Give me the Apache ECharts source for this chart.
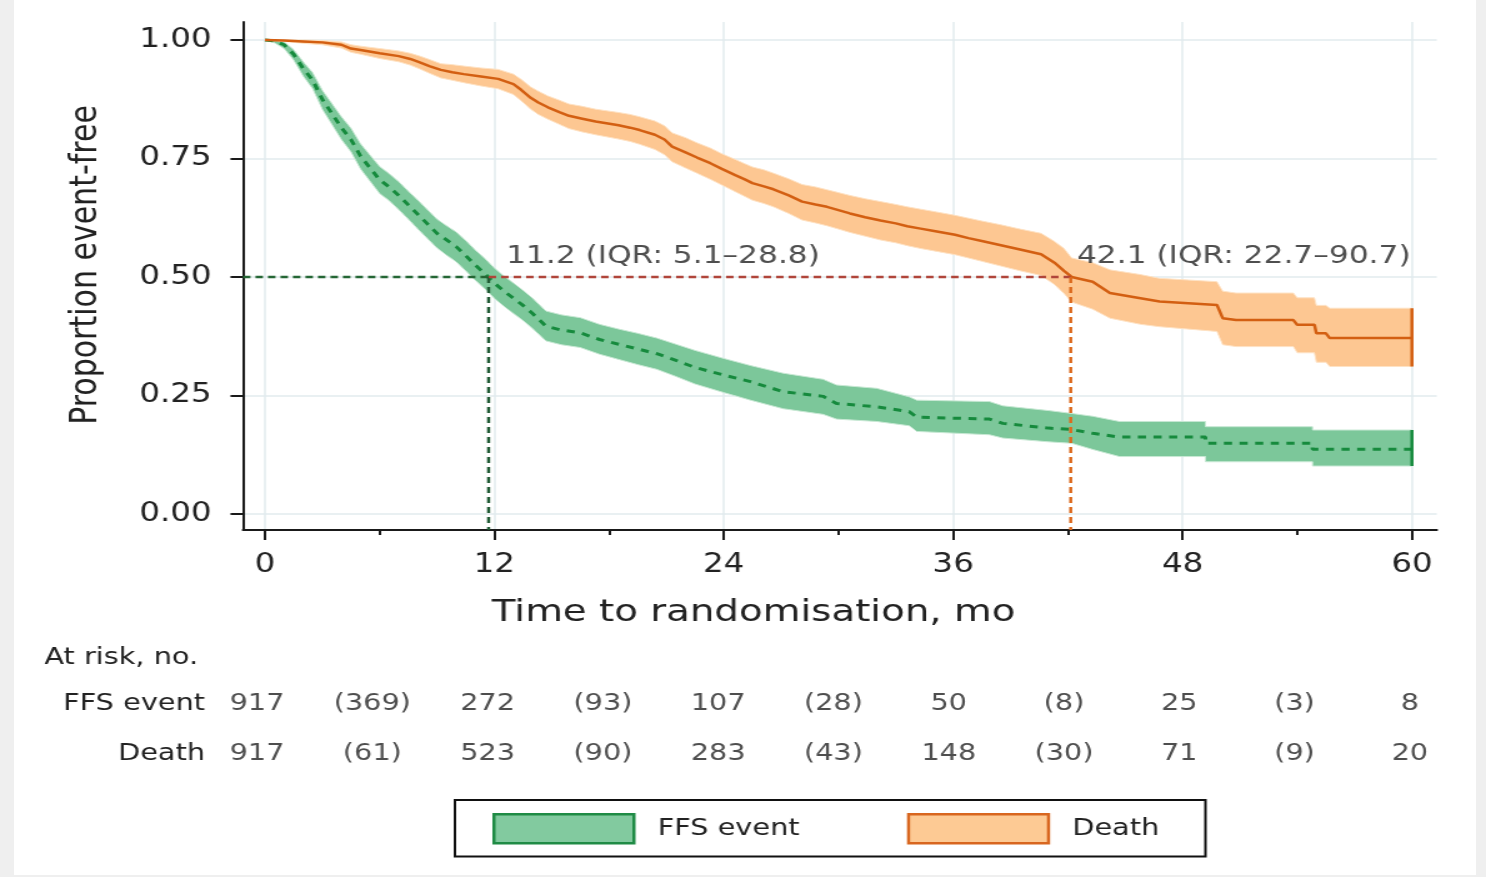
<!DOCTYPE html>
<html>
<head>
<meta charset="utf-8">
<script src="https://cdn.jsdelivr.net/npm/echarts@6/dist/echarts.min.js"></script>
<style>
  html, body { margin: 0; padding: 0; background: #efefef; }
  #panel { position: absolute; left: 14px; top: 0; width: 1462px; height: 875px; background: #fff; }
  /* the original figure is stretched sideways, so the chart is drawn narrow and widened */
  #chart { position: absolute; left: 0; top: 0; width: 1189px; height: 877px;
           transform: scaleX(1.2498); transform-origin: 0 0; }
</style>
</head>
<body>
<div id="panel"></div>
<div id="chart"></div>
<script>
  // curve vertices: months, survival, lower / upper 95% band
  // (a repeated month marks a visible vertical step)
  const ffsTime = [0, 0.5, 1, 1.5, 2, 2.5, 3, 3.5, 4, 4.5, 5, 5.5, 6, 6.5, 7, 7.5, 8, 8.5, 9, 9.5, 10, 10.5, 11, 11.5, 12, 12.5, 13, 13.5, 14, 14.7, 15.5, 16.5, 17.5, 18.5, 19.5, 20.5, 21.5, 22.5, 24, 25.4, 27.1, 29.2, 29.9, 32, 33.7, 34.1, 37.9, 38.6, 41, 42.2, 43.3, 44.7, 49.2, 49.2, 54.8, 54.8, 60]
  const ffsSurv = [1.000, 0.998, 0.990, 0.970, 0.940, 0.915, 0.875, 0.845, 0.815, 0.790, 0.755, 0.730, 0.705, 0.690, 0.672, 0.652, 0.632, 0.612, 0.592, 0.578, 0.564, 0.545, 0.525, 0.507, 0.487, 0.470, 0.455, 0.440, 0.423, 0.396, 0.388, 0.382, 0.368, 0.358, 0.348, 0.338, 0.324, 0.309, 0.293, 0.279, 0.258, 0.248, 0.233, 0.226, 0.216, 0.204, 0.200, 0.191, 0.181, 0.178, 0.170, 0.162, 0.162, 0.149, 0.149, 0.1365, 0.1365]
  const ffsLow = [1.000, 0.994, 0.982, 0.958, 0.924, 0.897, 0.854, 0.822, 0.790, 0.764, 0.728, 0.702, 0.676, 0.661, 0.642, 0.622, 0.601, 0.581, 0.561, 0.546, 0.532, 0.513, 0.493, 0.475, 0.455, 0.438, 0.423, 0.408, 0.391, 0.365, 0.357, 0.351, 0.337, 0.326, 0.315, 0.305, 0.290, 0.274, 0.256, 0.240, 0.222, 0.210, 0.200, 0.195, 0.186, 0.174, 0.167, 0.160, 0.152, 0.149, 0.136, 0.121, 0.121, 0.110, 0.110, 0.101, 0.101]
  const ffsHigh = [1.000, 1.000, 0.996, 0.980, 0.954, 0.931, 0.894, 0.866, 0.838, 0.814, 0.781, 0.757, 0.733, 0.718, 0.701, 0.681, 0.662, 0.642, 0.622, 0.608, 0.595, 0.577, 0.557, 0.539, 0.519, 0.502, 0.487, 0.472, 0.455, 0.428, 0.420, 0.414, 0.400, 0.390, 0.381, 0.371, 0.358, 0.345, 0.328, 0.313, 0.297, 0.284, 0.272, 0.265, 0.247, 0.240, 0.237, 0.228, 0.218, 0.212, 0.206, 0.195, 0.195, 0.184, 0.184, 0.177, 0.177]

  const deathTime = [0, 1, 2, 3, 4, 4.5, 5, 6, 7, 7.6, 8.1, 8.6, 9.2, 9.8, 10.4, 11.3, 12.2, 13, 13.4, 13.9, 14.3, 14.8, 15.4, 15.9, 16.6, 17.3, 18.5, 19.1, 19.6, 20.4, 20.9, 21.3, 22, 22.6, 23.3, 23.9, 24.6, 25.1, 25.5, 26.1, 26.6, 27.4, 28.1, 28.8, 29.4, 30, 30.6, 31.4, 32.2, 33, 33.6, 34.3, 35, 36.1, 36.8, 37.5, 38.5, 39.5, 40.6, 41.3, 41.8, 42.2, 43.3, 44.2, 45.8, 46.8, 49.8, 50.1, 50.8, 53.8, 54, 54.9, 55, 55.5, 55.7, 60]
  const deathSurv = [1.000, 0.999, 0.997, 0.995, 0.990, 0.982, 0.979, 0.972, 0.966, 0.960, 0.953, 0.945, 0.937, 0.932, 0.928, 0.923, 0.918, 0.907, 0.895, 0.878, 0.868, 0.858, 0.848, 0.840, 0.834, 0.828, 0.820, 0.815, 0.810, 0.800, 0.790, 0.775, 0.763, 0.752, 0.740, 0.728, 0.715, 0.706, 0.698, 0.691, 0.685, 0.672, 0.659, 0.653, 0.648, 0.641, 0.634, 0.626, 0.619, 0.613, 0.607, 0.602, 0.597, 0.589, 0.582, 0.576, 0.567, 0.558, 0.548, 0.530, 0.513, 0.500, 0.490, 0.466, 0.455, 0.448, 0.441, 0.413, 0.409, 0.409, 0.399, 0.399, 0.381, 0.381, 0.371, 0.371]
  const deathLow = [1.000, 0.997, 0.993, 0.990, 0.983, 0.974, 0.970, 0.961, 0.954, 0.947, 0.939, 0.930, 0.920, 0.915, 0.910, 0.903, 0.897, 0.885, 0.872, 0.854, 0.843, 0.833, 0.822, 0.813, 0.806, 0.800, 0.791, 0.786, 0.780, 0.769, 0.758, 0.743, 0.730, 0.719, 0.706, 0.694, 0.680, 0.670, 0.662, 0.655, 0.648, 0.634, 0.620, 0.614, 0.608, 0.601, 0.594, 0.586, 0.578, 0.572, 0.566, 0.560, 0.555, 0.547, 0.540, 0.533, 0.523, 0.513, 0.503, 0.484, 0.465, 0.447, 0.432, 0.413, 0.400, 0.395, 0.385, 0.357, 0.353, 0.353, 0.340, 0.340, 0.320, 0.320, 0.311, 0.311]
  const deathHigh = [1.000, 1.000, 1.000, 0.999, 0.996, 0.990, 0.987, 0.982, 0.977, 0.972, 0.966, 0.959, 0.950, 0.948, 0.945, 0.941, 0.938, 0.928, 0.917, 0.901, 0.892, 0.882, 0.873, 0.865, 0.860, 0.854, 0.847, 0.843, 0.838, 0.829, 0.819, 0.804, 0.794, 0.783, 0.772, 0.760, 0.748, 0.739, 0.732, 0.726, 0.719, 0.707, 0.695, 0.690, 0.684, 0.678, 0.672, 0.665, 0.659, 0.653, 0.648, 0.643, 0.638, 0.630, 0.624, 0.618, 0.610, 0.601, 0.592, 0.575, 0.560, 0.540, 0.530, 0.515, 0.505, 0.497, 0.490, 0.470, 0.466, 0.466, 0.456, 0.456, 0.440, 0.440, 0.434, 0.434]

  // medians where the curves cross 0.5, and their notes
  const medianTime = [11.7, 42.15]
  const medianText = ['11.2 (IQR: 5.1\u201328.8)', '42.1 (IQR: 22.7\u201390.7)']

  // axis ticks
  const xTicks = [0, 12, 24, 36, 48, 60]
  const xMinorTicks = [6, 18, 30, 42, 54]
  const yTicks = [0, 0.25, 0.5, 0.75, 1]

  // numbers at risk (and events in brackets) below the plot
  const riskRows = ['FFS event', 'Death']
  const riskTime = [0, 12, 24, 36, 48, 60]
  const eventTime = [6, 18, 30, 42, 54]
  const ffsAtRisk = [917, 272, 107, 50, 25, 8]
  const ffsEvents = [369, 93, 28, 8, 3]
  const deathAtRisk = [917, 523, 283, 148, 71, 20]
  const deathEvents = [61, 90, 43, 30, 9]

  const xMin = -1.15, xMax = 61.3
  const yMin = -0.034, yMax = 1.038
  const font = 'DejaVu Sans'
  const ink = '#222'
  const gridColor = '#e2ebee'

  const chart = echarts.init(document.getElementById('chart'))

  // confidence band drawn as one polygon through the axis scales
  function band(name, times, low, high, fill, edge) {
    return {
      type: 'custom', name: name, z: 1, silent: true,
      data: [[times[0], high[0]]],
      renderItem: (params, api) => {
        const pts = []
        for (let i = 0; i < times.length; i++) pts.push(api.coord([times[i], high[i]]))
        for (let i = times.length - 1; i >= 0; i--) pts.push(api.coord([times[i], low[i]]))
        return { type: 'polygon', shape: { points: pts }, style: { fill: fill, stroke: edge, lineWidth: 1 } }
      },
    }
  }

  function dashed(points, color) {
    return {
      type: 'line', symbol: 'none', z: 4, silent: true, data: points,
      lineStyle: { color: color, width: 2.5, type: [6, 4] },
    }
  }

  const riskData = []
  riskTime.forEach((t, i) => {
    riskData.push({ value: [t, riskRows[0]], name: String(ffsAtRisk[i]) })
    riskData.push({ value: [t, riskRows[1]], name: String(deathAtRisk[i]) })
  })
  eventTime.forEach((t, i) => {
    riskData.push({ value: [t, riskRows[0]], name: '(' + ffsEvents[i] + ')' })
    riskData.push({ value: [t, riskRows[1]], name: '(' + deathEvents[i] + ')' })
  })

  const lastF = ffsTime.length - 1
  const lastD = deathTime.length - 1

  chart.setOption({
    animation: false,
    textStyle: { fontFamily: font },
    title: {
      text: 'At risk, no.', left: 30.5, top: 642,
      textStyle: { fontFamily: font, fontSize: 23, fontWeight: 'normal', color: ink },
    },
    legend: {
      data: [
        { name: 'FFS event', icon: 'rect', itemStyle: { color: '#82ca9f', borderColor: '#1f8b45', borderWidth: 2.5 } },
        { name: 'Death', icon: 'rect', itemStyle: { color: '#fdca94', borderColor: '#d8661f', borderWidth: 2.5 } },
      ],
      left: 364, top: 800,
      itemWidth: 112, itemHeight: 29, itemGap: 86,
      padding: [13, 37, 12, 30],
      borderColor: '#111', borderWidth: 2, backgroundColor: '#fff',
      textStyle: { fontFamily: font, fontSize: 23, color: ink, padding: [0, 0, 0, 14] },
      selectedMode: false,
    },
    grid: [
      { left: 194.4, right: 39.4, top: 22, bottom: 347 },
      { left: 188, right: 41, top: 679, height: 100 },
    ],
    xAxis: [
      {
        type: 'value', gridIndex: 0, min: xMin, max: xMax, position: 'bottom',
        name: 'Time to randomisation, mo', nameLocation: 'middle', nameGap: 67,
        nameTextStyle: { fontFamily: font, fontSize: 31, color: ink, padding: [0, 138, 0, 0] },
        axisLine: { show: true, onZero: false, lineStyle: { color: '#1a1a1a', width: 2 } },
        axisTick: { show: true, customValues: xTicks, length: 10, lineStyle: { color: '#1a1a1a', width: 2 } },
        axisLabel: { customValues: xTicks, margin: 22, fontSize: 26, color: ink, fontFamily: font },
        splitLine: { show: false },
      },
      {
        type: 'value', gridIndex: 0, min: xMin, max: xMax, position: 'bottom',
        axisLine: { show: false, onZero: false },
        axisTick: { show: true, inside: false, customValues: xMinorTicks, length: 5, lineStyle: { color: '#1a1a1a', width: 2 } },
        axisLabel: { show: false },
        splitLine: { show: false },
      },
      { type: 'value', gridIndex: 1, min: xMin, max: xMax, show: false },
    ],
    yAxis: [
      {
        type: 'value', gridIndex: 0, min: yMin, max: yMax,
        name: 'Proportion event-free', nameLocation: 'middle', nameGap: 110, nameRotate: 90,
        nameTextStyle: { fontFamily: font, fontSize: 30, color: ink, padding: [0, 0, 0, 22] },
        axisLine: { show: true, onZero: false, lineStyle: { color: '#1a1a1a', width: 2 } },
        axisTick: { show: true, customValues: yTicks, length: 10, lineStyle: { color: '#1a1a1a', width: 2 } },
        axisLabel: { customValues: yTicks, margin: 25, fontSize: 26, color: ink, fontFamily: font,
                     formatter: v => v.toFixed(2) },
        splitLine: { show: false },
      },
      {
        type: 'category', gridIndex: 1, data: riskRows, inverse: true,
        axisLine: { show: false }, axisTick: { show: false }, splitLine: { show: false },
        axisLabel: { margin: 24, fontSize: 23, color: ink, fontFamily: font },
      },
    ],
    series: [
      {
        // light reference grid at the labelled ticks, kept under the bands
        type: 'line', data: [], z: 0, silent: true,
        markLine: {
          silent: true, symbol: 'none', z: 0, label: { show: false },
          lineStyle: { color: gridColor, width: 1.5, type: 'solid' },
          data: xTicks.map(v => ({ xAxis: v })).concat(yTicks.map(v => ({ yAxis: v }))),
        },
      },
      band('FFS event', ffsTime, ffsLow, ffsHigh, '#7cc79a', '#c8e8d4'),
      band('Death', deathTime, deathLow, deathHigh, '#fdc792', '#fee2c4'),
      {
        type: 'line', name: 'ffsKM', symbol: 'none', z: 3,
        data: ffsTime.map((t, i) => [t, ffsSurv[i]]),
        lineStyle: { color: '#168a3d', width: 3, type: [6.5, 6] },
      },
      {
        type: 'line', name: 'deathKM', symbol: 'none', z: 3,
        data: deathTime.map((t, i) => [t, deathSurv[i]]),
        lineStyle: { color: '#d35f12', width: 2.5 },
      },
      {
        type: 'line', symbol: 'none', z: 3,
        data: [[ffsTime[lastF], ffsLow[lastF]], [ffsTime[lastF], ffsHigh[lastF]]],
        lineStyle: { color: '#168a3d', width: 2.5 },
      },
      {
        type: 'line', symbol: 'none', z: 3,
        data: [[deathTime[lastD], deathLow[lastD]], [deathTime[lastD], deathHigh[lastD]]],
        lineStyle: { color: '#d35f12', width: 2.5 },
      },
      dashed([[xMin, 0.5], [medianTime[0], 0.5]], '#246634'),
      dashed([[medianTime[0], 0.5], [medianTime[0], yMin]], '#1f5a33'),
      dashed([[medianTime[0], 0.5], [medianTime[1], 0.5]], '#b0453a'),
      dashed([[medianTime[1], 0.5], [medianTime[1], yMin]], '#dc6a1e'),
      {
        type: 'scatter', symbolSize: 0, z: 5, silent: true,
        data: medianTime.map((m, i) => ({
          value: [m, 0.5], name: medianText[i],
          label: { distance: [14, 5][i] },
        })),
        label: {
          show: true, position: 'right', offset: [0, -20], formatter: '{b}',
          fontFamily: font, fontSize: 25, color: ink,
        },
      },
      {
        type: 'scatter', xAxisIndex: 2, yAxisIndex: 1, symbolSize: 0, silent: true,
        data: riskData,
        label: { show: true, position: 'inside', formatter: '{b}', fontFamily: font, fontSize: 23, color: ink },
      },
    ],
  })
</script>
</body>
</html>
